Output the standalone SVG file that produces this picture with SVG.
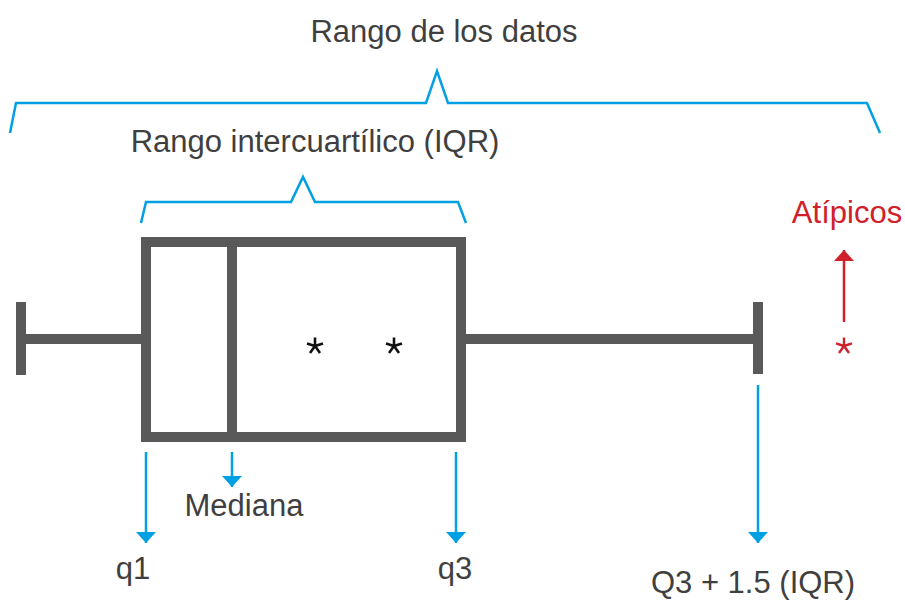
<svg xmlns="http://www.w3.org/2000/svg" width="905" height="601" viewBox="0 0 905 601">
<defs>
<style>
.t{font-family:"Liberation Sans",Arial,sans-serif;font-size:31px;fill:#3f3f3f}
.brace{fill:none;stroke:#00a0e3;stroke-width:2.5;stroke-linejoin:miter}
.box{fill:none;stroke:#595959;stroke-width:10}
.blue{stroke:#00a0e3;stroke-width:2.5;fill:none}
.red{stroke:#d0202a;stroke-width:2.5;fill:none}
.ast{stroke:#111;stroke-width:2.6;fill:none;stroke-linecap:butt}
</style>
<marker id="ab" markerWidth="20" markerHeight="11" refX="10" refY="11" orient="0" markerUnits="userSpaceOnUse" viewBox="0 0 20 11"><path d="M0,0 L20,0 L10,11 Z" fill="#00a0e3"/></marker>
<marker id="ar" markerWidth="20" markerHeight="11" refX="10" refY="0" orient="0" markerUnits="userSpaceOnUse" viewBox="0 0 20 11"><path d="M10,0 L20,11 L0,11 Z" fill="#d0202a"/></marker>
<g id="star"><path d="M0,-8.5 L0,0 M8,-2.6 L0,0 M-8,-2.6 L0,0 M5,7 L0,0 M-5,7 L0,0"/></g>
</defs>

<g id="rango-datos">
<path class="brace" d="M10,133 L16,103 L426,103 L437,71 L448,103 L867,103 L880,133"/>
<text class="t" x="444" y="42" text-anchor="middle">Rango de los datos</text>
</g>

<g id="rango-iqr">
<path class="brace" d="M141,223 L146,202 L291,202 L303,177 L315,202 L458,202 L466,223"/>
<text class="t" x="315" y="152" text-anchor="middle">Rango intercuartílico (IQR)</text>
</g>

<g id="boxplot">
<rect class="box" x="146" y="242" width="315" height="195"/>
<line class="box" x1="232" y1="242" x2="232" y2="437"/>
<line class="box" x1="21" y1="339" x2="141" y2="339"/>
<line class="box" x1="21" y1="302" x2="21" y2="375"/>
<line class="box" x1="466" y1="339" x2="758" y2="339"/>
<line class="box" x1="758" y1="302" x2="758" y2="374"/>
<use href="#star" x="315" y="346" class="ast"/>
<use href="#star" x="394" y="346" class="ast"/>
</g>

<g id="atipicos">
<text x="847" y="223" text-anchor="middle" style="font-family:'Liberation Sans',Arial,sans-serif;font-size:31px;fill:#d0202a">Atípicos</text>
<use href="#star" x="844" y="346" style="stroke:#d0202a;stroke-width:2.4;fill:none"/>
</g>

<g id="connectors">
<line class="blue" x1="146" y1="452" x2="146" y2="543" marker-end="url(#ab)"/>
<line class="blue" x1="232" y1="452" x2="232" y2="487" marker-end="url(#ab)"/>
<line class="blue" x1="456" y1="452" x2="456" y2="543" marker-end="url(#ab)"/>
<line class="blue" x1="758" y1="385" x2="758" y2="543" marker-end="url(#ab)"/>
<line class="red" x1="844" y1="322" x2="844" y2="250" marker-end="url(#ar)"/>
</g>

<g id="labels">
<text class="t" x="244" y="516" text-anchor="middle">Mediana</text>
<text class="t" x="133" y="579" text-anchor="middle">q1</text>
<text class="t" x="455" y="579" text-anchor="middle">q3</text>
<text class="t" x="753" y="593" text-anchor="middle">Q3 + 1.5 (IQR)</text>
</g>
</svg>
